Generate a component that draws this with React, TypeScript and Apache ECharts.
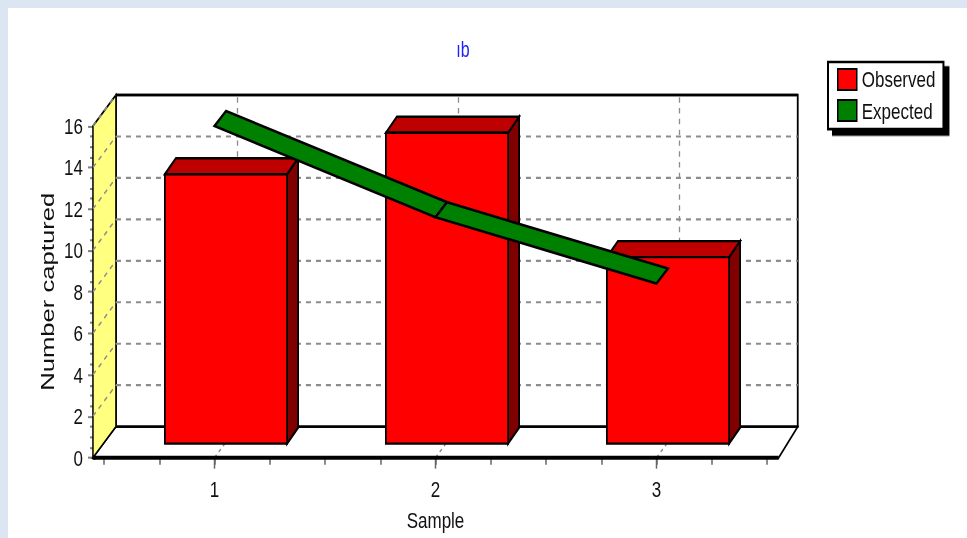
import React, { useEffect, useRef } from "react";
import * as echarts from "echarts";

const sampleLabels = [1, 2, 3];
const observed = [13, 15, 9];
const expected = [16, 11.6, 8.4];
const yTicks = [2, 4, 6, 8, 10, 12, 14, 16];

// The whole chart is laid out in a squat box and stretched vertically by CSS.
const STRETCH = 1.35;
const PAGE_W = 967;
const PAGE_H = 538;
const sy = (px: number) => px / STRETCH;

// Oblique projection offsets for the fake depth of the plot box.
const WALL_DX = 23;
const WALL_DY = sy(-31);
const BAR_FRONT_DX = 11.5;
const BAR_FRONT_DY = sy(-14);
const BAR_DEPTH_DX = 11;
const BAR_DEPTH_DY = sy(-16);
const RIBBON_DX = 11.5;
const RIBBON_DY = sy(-15);
const BAR_WIDTH_UNITS = 0.553;
const X_START = 0.45;
const X_FLOOR_END = 3.553;
const X_WALL_END = 3.535;

const SANS = "'Liberation Sans', Arial, sans-serif";
const GRID_GREY = "#8c8c8c";

const poly = (points: number[][], fill: string, lw = 1.8) => ({
  type: "polygon",
  shape: { points },
  style: { fill, stroke: "#000", lineWidth: lw },
});

const seg = (a: number[], b: number[], stroke: string, lineWidth: number, lineDash?: number[]) => ({
  type: "line",
  shape: { x1: a[0], y1: a[1], x2: b[0], y2: b[1] },
  style: { stroke, lineWidth, lineDash },
});

// Floor, walls, gridlines and the extended category axis.
const renderFrame = (_p: any, api: any) => {
  const pt = (x: number, v: number) => api.coord([x, v]) as number[];
  const wall = (p: number[]) => [p[0] + WALL_DX, p[1] + WALL_DY];
  const top = yTicks[yTicks.length - 1];
  const children: any[] = [];

  const fl = pt(X_START, 0);
  const fr = pt(X_FLOOR_END, 0);
  const wr = pt(X_WALL_END, 0);
  const flTop = pt(X_START, top);
  const wrTop = pt(X_WALL_END, top);

  children.push(
    poly([fl, fr, wall(wr), wall(fl)], "#ffffff", 1.5),
    poly([wall(fl), wall(wr), wall(wrTop), wall(flTop)], "#ffffff", 1.8),
    poly([fl, wall(fl), wall(flTop), flTop], "#ffff80", 1.5)
  );

  yTicks.forEach((v) => {
    const a = pt(X_START, v);
    if (v !== top) children.push(seg(wall(a), wall(pt(X_WALL_END, v)), GRID_GREY, 1.6, [5, 5]));
    children.push(seg(a, wall(a), GRID_GREY, 1.3, [4, 4]));
  });

  sampleLabels.forEach((s) => {
    const b = pt(s, 0);
    children.push(seg(wall(b), wall(pt(s, top)), GRID_GREY, 1.3, [4, 4]));
    children.push(seg(b, wall(b), GRID_GREY, 1.3, [3, 3]));
    children.push(seg(b, [b[0], b[1] + sy(11)], "#666", 1.5));
  });

  children.push(seg(wall(flTop), wall(wrTop), "#000", 1.8));
  children.push(seg(wall(fl), wall(wr), "#000", 1.8));
  children.push(seg(fl, fr, "#000", 3));
  return { type: "group", children };
};

const renderBar = (_p: any, api: any) => {
  const x = api.value(0);
  const v = api.value(1);
  const w = api.size([BAR_WIDTH_UNITS, 0])[0];
  const base = api.coord([x, 0]);
  const head = api.coord([x, v]);
  const l = base[0] - w / 2 + BAR_FRONT_DX;
  const r = l + w;
  const b = base[1] + BAR_FRONT_DY;
  const t = head[1] + BAR_FRONT_DY;
  const dx = BAR_DEPTH_DX;
  const dy = BAR_DEPTH_DY;
  return {
    type: "group",
    children: [
      poly([[r, t], [r + dx, t + dy], [r + dx, b + dy], [r, b]], "#800000"),
      poly([[l, t], [l + dx, t + dy], [r + dx, t + dy], [r, t]], "#bf0000"),
      poly([[l, t], [r, t], [r, b], [l, b]], "#ff0000"),
    ],
  };
};

const renderRibbon = (_p: any, api: any) => {
  const i = api.value(0);
  const a = api.coord([sampleLabels[i], expected[i]]);
  const b = api.coord([sampleLabels[i + 1], expected[i + 1]]);
  return poly(
    [a, b, [b[0] + RIBBON_DX, b[1] + RIBBON_DY], [a[0] + RIBBON_DX, a[1] + RIBBON_DY]],
    "#008000",
    2
  );
};

export default function App() {
  const ref = useRef<HTMLDivElement>(null);

  useEffect(() => {
    const chart = echarts.init(ref.current!, undefined, { renderer: "svg" });
    const axisText = { fontFamily: SANS, fontSize: 17, color: "#111" };
    chart.setOption({
      animation: false,
      title: {
        text: "ıb",
        left: 458,
        top: sy(32),
        textAlign: "center",
        textStyle: { fontFamily: SANS, fontSize: 16, fontWeight: "normal", color: "#2020ff" },
      },
      legend: {
        data: ["Observed", "Expected"],
        orient: "vertical",
        left: 828,
        top: sy(62),
        padding: [sy(6), 8, sy(7), 9],
        itemGap: sy(8),
        itemWidth: 19,
        itemHeight: sy(21),
        itemTextGap: 10,
        icon: "rect",
        backgroundColor: "#fff",
        borderColor: "#000",
        borderWidth: 2,
        shadowColor: "#000",
        shadowBlur: 0,
        shadowOffsetX: 5,
        shadowOffsetY: 4,
        itemStyle: { borderColor: "#000", borderWidth: 1.5 },
        textStyle: { ...axisText, lineHeight: sy(21) },
      },
      grid: {
        left: 104,
        right: PAGE_W - 767,
        top: sy(126),
        bottom: sy(PAGE_H - 457),
        outerBoundsMode: "none",
      },
      xAxis: {
        type: "value",
        min: 0.5,
        max: 3.5,
        interval: 0.25,
        splitLine: { show: false },
        axisLine: { show: false },
        axisTick: { show: true, length: sy(7), lineStyle: { color: "#666", width: 1.5 } },
        axisLabel: {
          ...axisText,
          margin: sy(20),
          formatter: (v: number) => (Number.isInteger(v) ? String(v) : ""),
        },
        name: "Sample",
        nameLocation: "middle",
        nameGap: sy(51),
        nameMoveOverlap: false,
        nameTextStyle: { ...axisText },
      },
      yAxis: {
        type: "value",
        min: 0,
        max: 16,
        interval: 2,
        offset: 10,
        splitLine: { show: false },
        axisLine: { show: true, lineStyle: { color: "#000", width: 3 } },
        axisTick: { show: true, length: 6, lineStyle: { color: "#808080", width: 1.5 } },
        minorTick: { show: true, splitNumber: 4, length: 4, lineStyle: { color: "#808080", width: 1.5 } },
        axisLabel: { ...axisText, margin: 11 },
        name: "Number captured",
        nameLocation: "middle",
        nameGap: 37,
        nameMoveOverlap: false,
        nameTextStyle: { fontFamily: SANS, fontSize: 19, color: "#111" },
      },
      series: [
        {
          type: "custom",
          name: "frame",
          data: [[0]],
          renderItem: renderFrame,
          clip: false,
          silent: true,
          z: 1,
        },
        {
          type: "custom",
          name: "Observed",
          data: sampleLabels.map((s, i) => [s, observed[i]]),
          encode: { x: 0, y: 1 },
          renderItem: renderBar,
          clip: false,
          itemStyle: { color: "#ff0000" },
          z: 3,
        },
        {
          type: "custom",
          name: "Expected",
          data: expected.slice(0, -1).map((_, i) => [i]),
          renderItem: renderRibbon,
          clip: false,
          itemStyle: { color: "#008000" },
          z: 4,
        },
      ],
    });
    return () => chart.dispose();
  }, []);

  return (
    <div style={{ position: "fixed", left: 0, top: 0, width: PAGE_W, height: PAGE_H, background: "#dce6f2", overflow: "hidden" }}>
      <div style={{ position: "absolute", left: 8, top: 8, width: PAGE_W - 8, height: PAGE_H - 8, background: "#fff" }} />
      <div
        ref={ref}
        style={{
          position: "absolute",
          left: 0,
          top: 0,
          width: PAGE_W,
          height: PAGE_H / STRETCH,
          transform: `scaleY(${STRETCH})`,
          transformOrigin: "0 0",
        }}
      />
    </div>
  );
}
